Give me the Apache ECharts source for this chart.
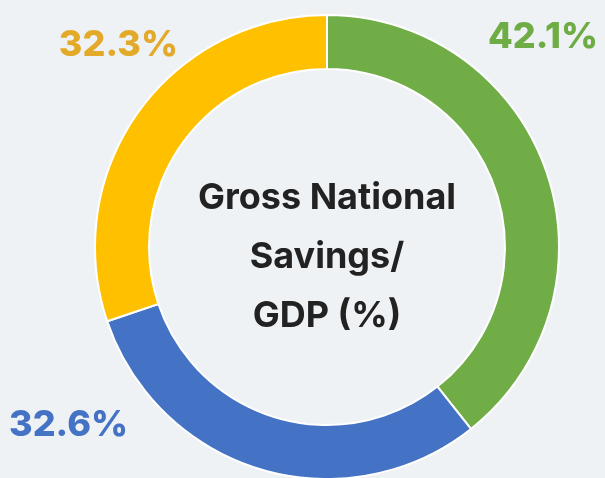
<!DOCTYPE html>
<html>
<head>
<meta charset="utf-8">
<script src="https://cdn.jsdelivr.net/npm/echarts@6/dist/echarts.min.js"></script>
<style>
html,body{margin:0;padding:0;background:#eff2f4;}
#chart{width:605px;height:478px;}
</style>
</head>
<body>
<div id="chart"></div>
<script>
var categories = ['Segment A', 'Segment B', 'Segment C'];
var values = [42.1, 32.6, 32.3];
var sliceColors = ['#70ad47', '#4472c4', '#ffc000'];
var labelColors = ['#6eac45', '#4472c4', '#e3aa2a'];
var centerLines = ['Gross National', 'Savings/', 'GDP (%)'];

var labelPos = [
  {x: 598, y: 37, align: 'right'},
  {x: 9, y: 425, align: 'left'},
  {x: 178, y: 45, align: 'right'}
];

var chart = echarts.init(document.getElementById('chart'));
chart.setOption({
  backgroundColor: '#eff2f4',
  animation: false,
  title: {
    text: centerLines.join('\n'),
    left: 327,
    top: 169,
    padding: 0,
    textAlign: 'center',
    textStyle: {
      fontFamily: 'Inter',
      fontWeight: 700,
      fontSize: 36,
      lineHeight: 59,
      color: '#222222'
    }
  },
  series: [{
    type: 'pie',
    center: [327, 247],
    radius: [178, 232],
    startAngle: 90,
    clockwise: true,
    avoidLabelOverlap: false,
    itemStyle: { borderColor: '#ffffff', borderWidth: 2 },
    label: {
      show: true,
      position: 'outside',
      formatter: function (p) { return p.value.toFixed(1) + '%'; },
      fontFamily: 'Inter',
      fontWeight: 800,
      fontSize: 36
    },
    labelLine: { show: false },
    labelLayout: function (p) {
      var lp = labelPos[p.dataIndex];
      return { x: lp.x, y: lp.y, align: lp.align, verticalAlign: 'middle' };
    },
    data: categories.map(function (c, i) {
      return {
        name: c,
        value: values[i],
        itemStyle: { color: sliceColors[i] },
        label: { color: labelColors[i] }
      };
    })
  }]
});
</script>
</body>
</html>
